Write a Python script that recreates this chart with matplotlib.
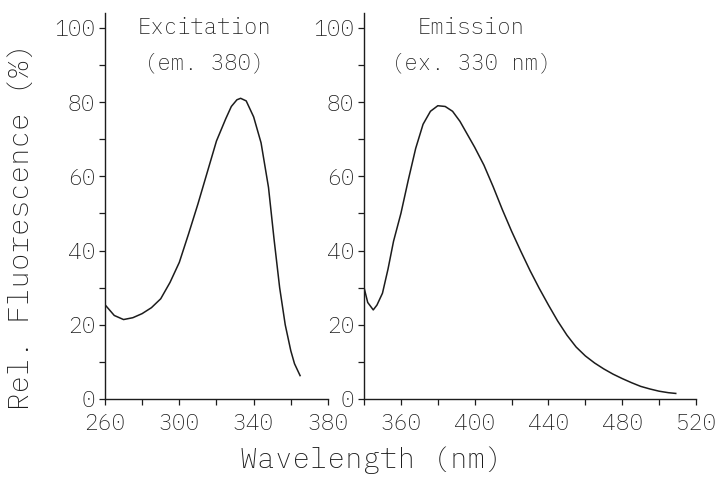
import matplotlib
matplotlib.use("Agg")
import matplotlib.pyplot as plt
from matplotlib.ticker import MultipleLocator, FixedLocator

# excitation spectrum (em. 380 nm)
ex_wl = [260, 265, 270, 275, 280, 285, 290, 295, 300, 305, 310, 315, 320, 325,
         328, 331, 333, 336, 340, 344, 348, 351, 354, 357, 360, 362, 365]
ex_val = [25.4, 22.5, 21.4, 21.9, 23.0, 24.6, 27.0, 31.4, 36.8, 44.5, 52.5, 61.0,
          69.5, 75.5, 78.8, 80.6, 81.0, 80.3, 76.0, 69.0, 57.0, 43.0, 30.0, 20.0,
          13.0, 9.5, 6.3]

# emission spectrum (ex. 330 nm)
em_wl = [340, 342, 345, 347, 350, 353, 356, 360, 364, 368, 372, 376, 380, 384,
         388, 392, 396, 400, 405, 410, 415, 420, 425, 430, 435, 440, 445, 450,
         455, 460, 465, 470, 475, 480, 485, 490, 495, 500, 505, 509]
em_val = [30.0, 26.0, 24.0, 25.3, 28.5, 35.0, 42.5, 50.0, 59.0, 67.5, 74.0, 77.5,
          79.0, 78.8, 77.5, 74.8, 71.3, 67.8, 63.0, 57.2, 51.0, 45.2, 39.8, 34.6,
          29.8, 25.3, 21.0, 17.2, 14.0, 11.6, 9.7, 8.1, 6.7, 5.5, 4.4, 3.4, 2.7,
          2.1, 1.7, 1.5]

ex_ticks = [260, 300, 340, 380]
em_ticks = [360, 400, 440, 480, 520]
y_ticks = [0, 20, 40, 60, 80, 100]

ink = "#1c1c1c"
plt.rcParams["font.family"] = ["IBM Plex Mono", "DejaVu Sans Mono"]
plt.rcParams["font.weight"] = "light"
plt.rcParams["text.color"] = ink

fig = plt.figure(figsize=(7.2, 4.82), dpi=100)
ax1 = fig.add_axes([0.1458, 0.1722, 0.3097, 0.801])
ax2 = fig.add_axes([0.5056, 0.1722, 0.4611, 0.801])

def style(ax, xmin, xmax, labels):
    for s in ["top", "right"]:
        ax.spines[s].set_visible(False)
    for s in ["left", "bottom"]:
        ax.spines[s].set_linewidth(1.0)
        ax.spines[s].set_color(ink)
    ax.set_xlim(xmin, xmax)
    ax.set_ylim(0, 104)
    ax.xaxis.set_major_locator(FixedLocator(labels))
    ax.xaxis.set_minor_locator(MultipleLocator(20))
    ax.yaxis.set_major_locator(FixedLocator(y_ticks))
    ax.yaxis.set_minor_locator(MultipleLocator(10))
    ax.tick_params(which="both", direction="out", length=4, width=0.9,
                   color=ink, labelcolor=ink, labelsize=16.5)
    ax.tick_params(axis="x", pad=6)
    ax.tick_params(axis="y", pad=3)

style(ax1, 260, 380, ex_ticks)
style(ax2, 340, 520, em_ticks)

ax1.plot(ex_wl, ex_val, color=ink, lw=1.1)
ax2.plot(em_wl, em_val, color=ink, lw=1.1)

ax1.text(313.5, 100, "Excitation", ha="center", va="center", fontsize=16)
ax1.text(313.5, 90.5, "(em. 380)", ha="center", va="center", fontsize=16)
ax2.text(398, 100, "Emission", ha="center", va="center", fontsize=16)
ax2.text(398, 90.5, "(ex. 330 nm)", ha="center", va="center", fontsize=16)

fig.text(0.515, 0.045, "Wavelength (nm)", ha="center", va="center", fontsize=21)
fig.text(0.03, 0.53, "Rel. Fluorescence (%)", ha="center", va="center",
         rotation=90, fontsize=21)

fig.savefig("out.png", dpi=100, facecolor="white")
